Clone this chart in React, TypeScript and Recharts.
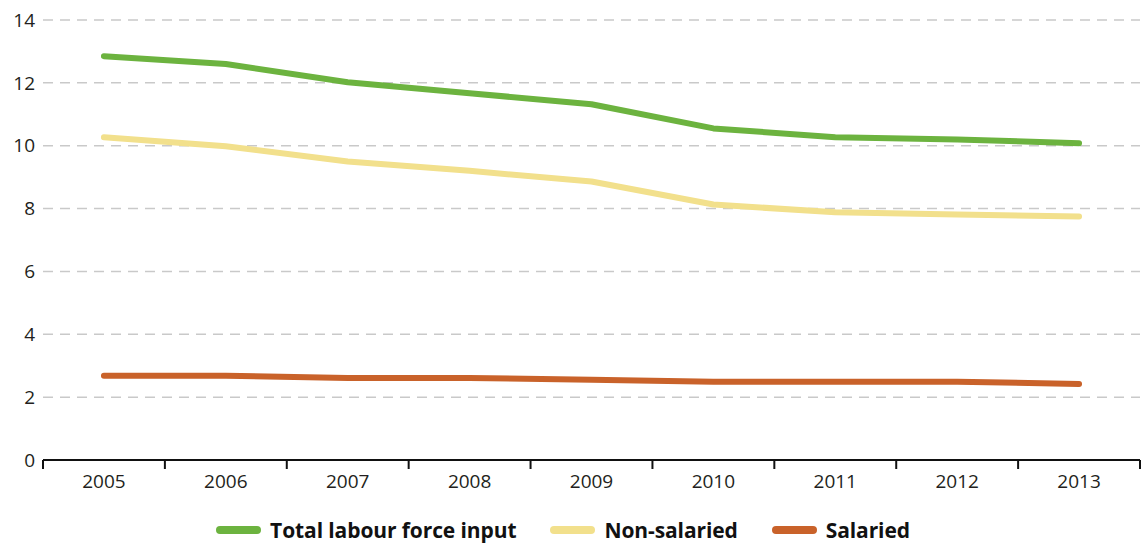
import { LineChart, Line, XAxis, YAxis, CartesianGrid } from "recharts";

const ANIOS = ["2005", "2006", "2007", "2008", "2009", "2010", "2011", "2012", "2013"];
const TOTAL = [12.85, 12.6, 12.02, 11.67, 11.32, 10.55, 10.27, 10.2, 10.08];
const NO_ASALARIADOS = [10.27, 9.98, 9.5, 9.2, 8.86, 8.13, 7.88, 7.81, 7.75];
const ASALARIADOS = [2.68, 2.68, 2.61, 2.61, 2.55, 2.49, 2.49, 2.49, 2.42];
const Y_TICKS = [0, 2, 4, 6, 8, 10, 12, 14];

const SERIES = [
  { key: "total", name: "Total labour force input", color: "#6cb33f" },
  { key: "noSal", name: "Non-salaried", color: "#f2e08c" },
  { key: "sal", name: "Salaried", color: "#c9622a" },
];

const data = ANIOS.map((anio, i) => ({
  anio,
  total: TOTAL[i],
  noSal: NO_ASALARIADOS[i],
  sal: ASALARIADOS[i],
}));

const ANCHO = 1142;
const ALTO = 544;
const MARGEN = { top: 20, right: 2, left: 5, bottom: 44 };
const ANCHO_Y = 38;
const PLOT_W = ANCHO - MARGEN.left - MARGEN.right - ANCHO_Y;
const BANDA = PLOT_W / ANIOS.length;
const FUENTE = "'Open Sans', 'Liberation Sans', sans-serif";

const renderTickX = (props: any) => {
  const { x, y, payload, index } = props;
  const y0 = y - 8;
  return (
    <g>
      <line x1={x - BANDA / 2} x2={x - BANDA / 2} y1={y0} y2={y0 + 9} stroke="#111" strokeWidth={2} />
      {index === ANIOS.length - 1 && (
        <line x1={x + BANDA / 2} x2={x + BANDA / 2} y1={y0} y2={y0 + 9} stroke="#111" strokeWidth={2} />
      )}
      <text x={x} y={y0 + 28} textAnchor="middle" fill="#231f20" fontSize={19} fontFamily={FUENTE}>
        {payload.value}
      </text>
    </g>
  );
};

const Leyenda = () => (
  <div
    style={{
      position: "absolute",
      left: 0,
      top: 516,
      width: ANCHO,
      display: "flex",
      justifyContent: "center",
      paddingLeft: 18,
      boxSizing: "border-box",
      fontFamily: FUENTE,
      fontWeight: 700,
      fontSize: 21,
      color: "#111",
      letterSpacing: -0.1,
    }}
  >
    {SERIES.map((s) => (
      <div key={s.key} style={{ display: "flex", alignItems: "center", marginRight: 34 }}>
        <span style={{ width: 45, height: 8, borderRadius: 4, background: s.color, marginRight: 9 }} />
        <span>{s.name}</span>
      </div>
    ))}
  </div>
);

export default function App() {
  return (
    <div style={{ position: "absolute", left: 0, top: 0, width: ANCHO, height: ALTO, background: "#fff" }}>
      <LineChart width={ANCHO} height={ALTO} data={data} margin={MARGEN}>
        <CartesianGrid vertical={false} stroke="#c9c9c9" strokeWidth={1.5} strokeDasharray="10 7" />
        <XAxis
          dataKey="anio"
          axisLine={{ stroke: "#111", strokeWidth: 2 }}
          tickLine={false}
          tick={renderTickX}
          interval={0}
          height={40}
          padding={{ left: BANDA / 2, right: BANDA / 2 }}
        />
        <YAxis
          domain={[0, 14]}
          ticks={Y_TICKS}
          axisLine={false}
          tickLine={false}
          width={ANCHO_Y}
          tick={{ fill: "#231f20", fontSize: 19, fontFamily: FUENTE }}
        />
        {SERIES.map((s) => (
          <Line
            key={s.key}
            dataKey={s.key}
            name={s.name}
            type="linear"
            stroke={s.color}
            strokeWidth={6}
            strokeLinecap="round"
            strokeLinejoin="round"
            dot={false}
            isAnimationActive={false}
          />
        ))}
      </LineChart>
      <Leyenda />
    </div>
  );
}
